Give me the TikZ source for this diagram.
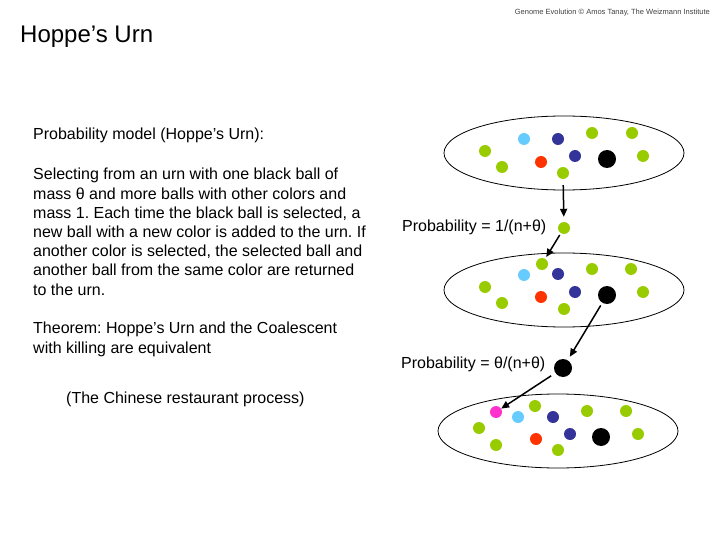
\documentclass[tikz,border=0pt]{standalone}
\usepackage{fontspec}
\setmainfont{Liberation Sans}
\usetikzlibrary{arrows.meta, shapes.geometric}

\definecolor{ballgreen}{RGB}{153,204,0}
\definecolor{ballblue}{RGB}{102,204,255}
\definecolor{ballnavy}{RGB}{51,51,153}
\definecolor{ballred}{RGB}{255,51,0}
\definecolor{ballpink}{RGB}{255,51,204}
\frenchspacing

\begin{document}
\begin{tikzpicture}[
  x=1pt, y=-1pt,
  urn/.style={ellipse, draw, line width=0.8pt, minimum width=240pt, minimum height=74pt, inner sep=0},
  ball/.style={circle, inner sep=0, minimum size=12pt},
  bigball/.style={circle, inner sep=0, minimum size=18pt, fill=black},
  pick/.style={-{Triangle[length=8pt, width=7pt]}, line width=1.5pt},
  body/.style={font=\fontsize{16}{19.2}\selectfont, inner sep=0, align=left}
]
\useasboundingbox (0,0) rectangle (720,540);

% header and text (base = last line)
\node[font=\fontsize{7.5}{9}\selectfont, text=black!75, anchor=base east, inner sep=0] (credit) at (710,15) {Genome Evolution © Amos Tanay, The Weizmann Institute};
\node[font=\fontsize{24}{28}\selectfont, anchor=base west, inner sep=0] (title) at (20,43) {Hoppe’s Urn};
\node[body, anchor=base west] (model) at (33,140) {Probability model (Hoppe’s Urn):};
\node[body, anchor=base west] (rule) at (33,295) {Selecting from an urn with one black ball of\\
mass θ and more balls with other colors and\\
mass 1. Each time the black ball is selected, a\\
new ball with a new color is added to the urn. If\\
another color is selected, the selected ball and\\
another ball from the same color are returned\\
to the urn.};
\node[body, anchor=base west] (theorem) at (33,353) {Theorem: Hoppe’s Urn and the Coalescent\\
with killing are equivalent};
\node[body, anchor=base west] (crp) at (66,403) {(The Chinese restaurant process)};
\node[body, anchor=base west] (prob1) at (402,231) {Probability = 1/(n+θ)};
\node[body, anchor=base west] (prob2) at (401,368) {Probability = θ/(n+θ)};

% urns
\node[urn] (urn1) at (564,153) {};
\node[urn] (urn2) at (564,290) {};
\node[urn] (urn3) at (558,431) {};

% balls
\foreach \n/\x/\y/\c in {a/485/151/ballgreen, b/524/139/ballblue, c/558/139/ballnavy, d/592/133/ballgreen,
  e/632/133/ballgreen, f/502/167/ballgreen, g/541/162/ballred, h/575/156/ballnavy, i/643/156/ballgreen, j/563/173/ballgreen}
  \node[ball, fill=\c] (u1\n) at (\x,\y) {};
\node[bigball] (u1k) at (607,159) {};

\foreach \n/\x/\y/\c in {a/542/264/ballgreen, b/524/275/ballblue, c/558/274/ballnavy, d/592/269/ballgreen,
  e/631/269/ballgreen, f/485/287/ballgreen, g/502/303/ballgreen, h/541/297/ballred, i/575/292/ballnavy,
  j/643/292/ballgreen, l/564/309/ballgreen}
  \node[ball, fill=\c] (u2\n) at (\x,\y) {};
\node[bigball] (u2k) at (607,295) {};

\foreach \n/\x/\y/\c in {a/496/412/ballpink, b/518/417/ballblue, c/535/406/ballgreen, d/553/417/ballnavy,
  e/587/411/ballgreen, f/626/411/ballgreen, g/479/428/ballgreen, h/496/445/ballgreen, i/536/439/ballred,
  j/570/434/ballnavy, l/638/434/ballgreen, m/558/450/ballgreen}
  \node[ball, fill=\c] (u3\n) at (\x,\y) {};
\node[bigball] (u3k) at (601,437) {};

% drawn balls
\node[ball, fill=ballgreen] (draw1) at (564,228) {};
\node[bigball] (draw2) at (563,368) {};

% arrows
\draw[pick, shorten <=6pt, shorten >=5pt] (u1j) -- (draw1);
\draw[pick, shorten <=2pt, shorten >=2pt] (draw1) -- (u2a);
\draw[pick, shorten <=3pt, shorten >=4pt] (u2k) -- (draw2);
\draw[pick, shorten <=5pt, shorten >=0pt] (draw2) -- (u3a);
\end{tikzpicture}
\end{document}
